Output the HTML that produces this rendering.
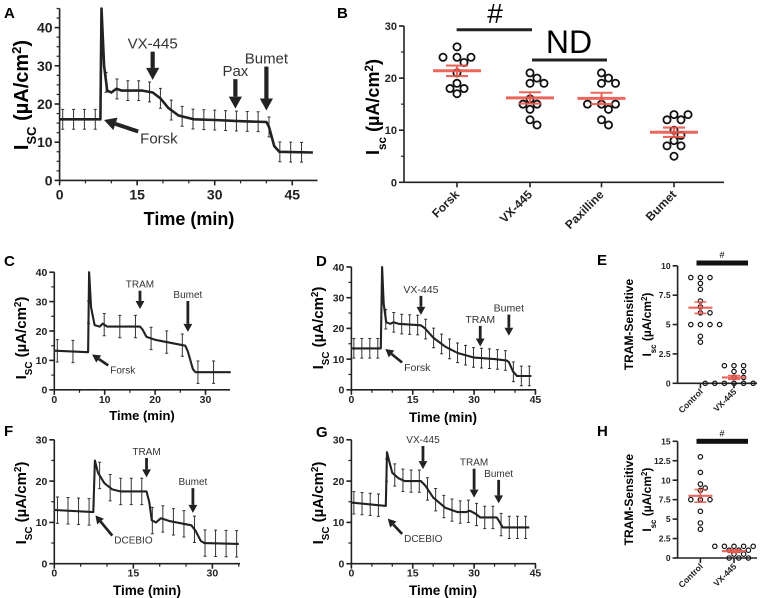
<!DOCTYPE html>
<html><head><meta charset="utf-8">
<style>
html,body{margin:0;padding:0;background:#fff;}
svg{display:block;font-family:"Liberation Sans",Arial,sans-serif;}
</style></head>
<body>
<svg id="chart" width="760" height="598" viewBox="0 0 760 598" xmlns="http://www.w3.org/2000/svg"></svg>
<script>
// ---------- DATA ----------
const A_t = [0,7.9,8.1,8.6,9.2,10,11,12,16,18,19.5,21,23,26,30,35,40,40.5,41.5,42.5,49];
const A_v = [16,16,45,30,23.5,23,24,23.5,23.5,23,21.5,19,17,16,15.8,15.5,15.3,14,9,7.5,7.3];
const A_err = 2.6;
const C_t = [0,6.7,6.9,7.3,8,9,9.6,10.5,17,17.5,18.3,20,26,26.5,27.5,28,35];
const C_v = [13.3,12.8,40,28,22,21.5,22.5,21.5,21.5,20.5,18,17,15,13,7,6,6];
const C_err = 3.8;
const D_t = [0,7.2,7.5,7.9,8.5,9.5,10.3,11.5,17,18,20,23,26,30,35,38,38.5,39.5,40.5,44];
const D_v = [13.5,13.5,40,28,22,21.5,22,21.5,21,20,17,14,12,10.5,10,9.5,9,6,4.5,4.5];
const D_err = 3.2;
const F_t = [0,7.4,7.7,8.3,9.5,11,12.5,17.5,18,18.5,19.3,20.2,22,26,26.8,27.8,28.5,35];
const F_v = [13,12.5,25,22,19.5,18,17.5,17.5,15,10.5,10,11,10.3,9.3,8,5.5,5,4.8];
const F_err = 3.2;
const G_t = [0,8.4,8.7,9.2,10,11.5,13,17,18,20,23,26,28,29,30.5,31.5,35.5,36,37,43.5];
const G_v = [14.8,14,27,25,22,20.7,20,20,19,16,13.5,12.5,12.5,12.8,12,11.2,11.2,10.5,8.8,8.8];
const G_err = 2.7;

const A_xticks = [0,15,30,45];
const A_yticks = [0,10,20,30,40];
const C_xticks = [0,10,20,30];
const D_xticks = [0,15,30,45];
const F_xticks = [0,15,30];
const G_xticks = [0,15,30,45];
const CD_yticks = [0,10,20,30,40];
const FG_yticks = [0,10,20,30];

// annotations: [t, vStart, vEnd, label]
const A_arrows = [[18,33.7,26.3,'VX-445'],[34,26.5,18.8,'Pax'],[40,29.8,18.3,'Bumet']];
const C_arrows = [[17,33.7,27.5,'TRAM'],[26.5,30.2,19.7,'Bumet']];
const D_arrows = [[17,30.6,24.4,'VX-445'],[31.5,20.8,14.1,'TRAM'],[38.5,24.5,17.6,'Bumet']];
const F_arrows = [[17.5,25.6,20.9,'TRAM'],[26.3,18.3,12.3,'Bumet']];
const G_arrows = [[17.5,28.5,22.9,'VX-445'],[30,23.0,16,'TRAM'],[36,20.3,14.6,'Bumet']];
// diagonal pointer: [tTail, vTail, tTip, vTip, label]
const A_pointer = [15.2,12.8,8.6,15.8,'Forsk'];
const C_pointer = [10.7,8.3,7.5,12,'Forsk'];
const D_pointer = [12.4,8.9,8.3,13.3,'Forsk'];
const F_pointer = [11.0,6.8,7.8,11.7,'DCEBIO'];
const G_pointer = [12.4,7.2,8.9,10.9,'DCEBIO'];

const B_categories = ['Forsk','VX-445','Paxilline','Bumet'];
const B_forsk = [26,24,24,24,23,21,19,18,18,17];
const B_vx = [21,20,19,19,16,15,15,14,12,11];
const B_pax = [21,20,19,19,15,15,15,14,12,11];
const B_bumet = [13,13,12,12,10,9,8,7,7,5];
const B_yticks = [0,10,20,30];

const E_categories = ['Control','VX-445'];
const E_control = [9,9,9,8.5,8,7,6.5,6,6,5,5,5,5,4,3.5];
const E_vx = [1.5,1.5,1.5,1,1,0.5,0.5,0,0,0,0,0,0,0,0];
const E_yticks = [0,2.5,5,7.5,10];
const H_control = [13,11,9.5,9,8.7,7.5,7.5,7.5,6,4.5,3.7];
const H_vx = [1.5,1.5,1.5,1.5,1.5,1,1,1,0.5,0.5,0,0,0];
const H_yticks = [0,2.5,5,7.5,10,12.5,15];

// ---------- DRAWING ----------
const NS = 'http://www.w3.org/2000/svg';
const svg = document.getElementById('chart');
function mk(parent, tag, attrs, text){
  const el = document.createElementNS(NS, tag);
  for (const k in attrs) el.setAttribute(k, attrs[k]);
  if (text !== undefined) el.textContent = text;
  parent.appendChild(el);
  return el;
}
const RED = '#e8574c';

function panelLetter(ch, x, y){
  const t = mk(svg,'text',{x:x,y:y,'font-size':15,'font-weight':'bold'},ch);
  
  
}

function yTitle(g, x, y, fs, sub, lines){
  const t = mk(g,'text',{transform:'translate('+x+','+y+') rotate(-90)','text-anchor':'middle','font-size':fs,'font-weight':'bold'});
  
  
  mk(t,'tspan',{},'I');
  mk(t,'tspan',{'baseline-shift':'sub','font-size':(fs*0.65).toFixed(1)},sub);
  mk(t,'tspan',{},' (\u00B5A/cm');
  mk(t,'tspan',{'baseline-shift':'super','font-size':(fs*0.65).toFixed(1)},'2');
  mk(t,'tspan',{},')');
}

function axes(g, P, xticks, yticks, minorX, minorY, fs, xLabelDy){
  const X = t => P.ox + t*P.kx, Y = v => P.oy - v*P.ky;
  const ya = mk(g,'line',{x1:P.ox,y1:P.oy,x2:P.ox,y2:Y(P.yTop),stroke:'#222','stroke-width':1.6});
  
  
  const yMax = yticks[yticks.length-1];
  for (let v=0; v<=P.yTop+1e-6; v+=minorY){
    const tk = mk(g,'line',{x1:P.ox-3,y1:Y(v),x2:P.ox,y2:Y(v),stroke:'#222','stroke-width':1.2});
    
    
  }
  yticks.forEach(v=>{
    const tk = mk(g,'line',{x1:P.ox-5,y1:Y(v),x2:P.ox,y2:Y(v),stroke:'#222','stroke-width':1.6});
    
    
    const lb = mk(g,'text',{x:P.ox-7,y:Y(v)+fs*0.36,'text-anchor':'end','font-size':fs,'font-weight':'bold',fill:'#222'},String(v));
    
    
  });
  const xa = mk(g,'line',{x1:P.ox,y1:P.oy,x2:P.xEnd,y2:P.oy,stroke:'#222','stroke-width':1.6});
  
  
  if (xticks){
    for (let t=0; X(t)<=P.xEnd+0.5; t+=minorX){
      const tk = mk(g,'line',{x1:X(t),y1:P.oy,x2:X(t),y2:P.oy+3,stroke:'#222','stroke-width':1.2});
      
      
    }
    xticks.forEach(t=>{
      const tk = mk(g,'line',{x1:X(t),y1:P.oy,x2:X(t),y2:P.oy+5,stroke:'#222','stroke-width':1.6});
      
      
      const lb = mk(g,'text',{x:X(t),y:P.oy+xLabelDy,'text-anchor':'middle','font-size':fs,'font-weight':'bold',fill:'#222'},String(t));
      
      
    });
  }
}

function interp(ts, vs, t){
  if (t<=ts[0]) return vs[0];
  for (let i=1;i<ts.length;i++){
    if (t<=ts[i]){ const f=(t-ts[i-1])/(ts[i]-ts[i-1]); return vs[i-1]+f*(vs[i]-vs[i-1]); }
  }
  return vs[vs.length-1];
}

function trace(g, P, ts, vs, err, step, lw){
  const X = t => P.ox + t*P.kx, Y = v => P.oy - v*P.ky;
  const tEnd = ts[ts.length-1];
  for (let t=0.6; t<tEnd-0.3; t+=step){
    const v = interp(ts,vs,t);
    const eb = mk(g,'path',{d:'M'+X(t)+','+Y(v-err)+'V'+Y(v+err)+'M'+(X(t)-1.5)+','+Y(v+err)+'h3M'+(X(t)-1.5)+','+Y(v-err)+'h3',stroke:'#333','stroke-width':1,fill:'none'});
    
    
  }
  let d='';
  ts.forEach((t,i)=>{ d += (i?'L':'M') + X(t).toFixed(1) + ',' + Y(vs[i]).toFixed(1); });
  const p = mk(g,'path',{d:d,stroke:'#222','stroke-width':lw,fill:'none','stroke-linejoin':'round'});
  
  
}

function arrows(g, P, list, fs, head){
  const X = t => P.ox + t*P.kx, Y = v => P.oy - v*P.ky;
  list.forEach(a=>{
    const x=X(a[0]), y1=Y(a[1]), y2=Y(a[2]);
    const ln = mk(g,'line',{x1:x,y1:y1,x2:x,y2:y2-head,stroke:'#222','stroke-width':head*0.35});
    
    
    const hd = mk(g,'path',{d:'M'+(x-head*0.55)+','+(y2-head)+'L'+(x+head*0.55)+','+(y2-head)+'L'+x+','+y2+'Z',fill:'#222'});
    
    
    const tx = mk(g,'text',{x:x,y:y1-3,'text-anchor':'middle','font-size':fs,fill:'#333'},a[3]);
    
    
  });
}

function pointer(g, P, a, fs, head){
  const X = t => P.ox + t*P.kx, Y = v => P.oy - v*P.ky;
  const x1=X(a[0]), y1=Y(a[1]), x2=X(a[2]), y2=Y(a[3]);
  const dx=x2-x1, dy=y2-y1, L=Math.hypot(dx,dy), ux=dx/L, uy=dy/L;
  const bx=x2-ux*head, by=y2-uy*head;
  const ln = mk(g,'line',{x1:x1,y1:y1,x2:bx,y2:by,stroke:'#222','stroke-width':head*0.33});
  
  
  const w=head*0.55;
  const hd = mk(g,'path',{d:'M'+(bx-uy*w)+','+(by+ux*w)+'L'+(bx+uy*w)+','+(by-ux*w)+'L'+x2+','+y2+'Z',fill:'#222'});
  
  
  const tx = mk(g,'text',{x:x1+2,y:y1+fs*0.8,'font-size':fs,fill:'#333'},a[4]);
  
  
}

function xTitle(g, x, y, fs){
  const t = mk(g,'text',{x:x,y:y,'text-anchor':'middle','font-size':fs,'font-weight':'bold'},'Time (min)');
  
  
}

function swarm(vals, ky, d, minD){
  const placed=[]; const out=[];
  const order = vals.map((v,i)=>i).sort((a,b)=>vals[b]-vals[a]);
  order.forEach(i=>{
    const y = vals[i]*ky;
    for (let k=0;k<20;k++){
      const off = (k===0?0:(k%2? 1:-1)*Math.ceil(k/2))*d;
      if (placed.every(p=>Math.hypot(p[0]-off,p[1]-y)>=minD)){ placed.push([off,y]); out[i]=off; break; }
    }
  });
  return out;
}

function scatterGroup(g, P, cx, vals, r, sw, d, minD, meanW, capW, mlw, name){
  const Y = v => P.oy - v*P.ky;
  const offs = swarm(vals, P.ky, d, minD);
  vals.forEach((v,i)=>{
    const c = mk(g,'circle',{cx:cx+offs[i],cy:Y(v),r:r,fill:'none',stroke:'#111','stroke-width':sw});
    
    
  });
  const n=vals.length, m=vals.reduce((a,b)=>a+b,0)/n;
  const sd=Math.sqrt(vals.reduce((a,b)=>a+(b-m)*(b-m),0)/(n-1)), se=sd/Math.sqrt(n);
  const ml = mk(g,'line',{x1:cx-meanW/2,y1:Y(m),x2:cx+meanW/2,y2:Y(m),stroke:RED,'stroke-width':mlw,opacity:0.9});
  
  
  const eb = mk(g,'path',{d:'M'+cx+','+Y(m-se)+'V'+Y(m+se)+'M'+(cx-capW/2)+','+Y(m+se)+'h'+capW+'M'+(cx-capW/2)+','+Y(m-se)+'h'+capW,stroke:RED,'stroke-width':mlw*0.7,fill:'none',opacity:0.9});
  
  
}

function catLabels(g, P, xs, cats, fs, dy){
  cats.forEach((c,i)=>{
    const x=xs[i]+3, y=P.oy+dy;
    const t = mk(g,'text',{transform:'translate('+x+','+y+') rotate(-45)','text-anchor':'end','font-size':fs,'font-weight':'bold',fill:'#222'},c);
    
    
    const tk = mk(g,'line',{x1:xs[i],y1:P.oy,x2:xs[i],y2:P.oy+5,stroke:'#222','stroke-width':1.6});
    
    
  });
}

function group(name){
  const g = mk(svg,'g',{});
  
  
  return g;
}

// ----- Panel A -----
{
  const P={ox:59.6, oy:180.4, kx:5.17, ky:3.82, xEnd:317.5, yTop:45};
  const g=group('panel-a');
  axes(g,P,A_xticks,A_yticks,5,2.5,14,19);
  trace(g,P,A_t,A_v,A_err,2.1,2.6);
  arrows(g,P,A_arrows,15,12);
  pointer(g,P,A_pointer,15,12);
  yTitle(g,28,95,20,'SC');
  xTitle(g,189,225,18);
}
// ----- Panel C -----
{
  const P={ox:54.3, oy:389.8, kx:5.04, ky:2.94, xEnd:230, yTop:40};
  const g=group('panel-c');
  axes(g,P,C_xticks,CD_yticks,5,5,10.5,13);
  trace(g,P,C_t,C_v,C_err,3.1,2.1);
  arrows(g,P,C_arrows,10,8);
  pointer(g,P,C_pointer,10,8);
  yTitle(g,26,338,15,'SC');
  xTitle(g,142,420,13);
}
// ----- Panel D -----
{
  const P={ox:351.4, oy:389.8, kx:4.09, ky:3.07, xEnd:536, yTop:40};
  const g=group('panel-d');
  axes(g,P,D_xticks,CD_yticks,5,5,10.5,13);
  trace(g,P,D_t,D_v,D_err,1.95,2.1);
  arrows(g,P,D_arrows,10.5,8);
  pointer(g,P,D_pointer,10.5,8);
  yTitle(g,323,328,15,'SC');
  xTitle(g,443,422,13.5);
}
// ----- Panel F -----
{
  const P={ox:54.3, oy:563.7, kx:5.27, ky:4.13, xEnd:240, yTop:30};
  const g=group('panel-f');
  axes(g,P,F_xticks,FG_yticks,5,5,10.5,13);
  trace(g,P,F_t,F_v,F_err,2.0,2.1);
  arrows(g,P,F_arrows,10,8);
  pointer(g,P,F_pointer,10,8);
  yTitle(g,26,503,15,'SC');
  xTitle(g,147,595,13.5);
}
// ----- Panel G -----
{
  const P={ox:351.4, oy:563.7, kx:4.09, ky:4.13, xEnd:536, yTop:30};
  const g=group('panel-g');
  axes(g,P,G_xticks,FG_yticks,5,5,10.5,13);
  trace(g,P,G_t,G_v,G_err,2.0,2.1);
  arrows(g,P,G_arrows,10,8);
  pointer(g,P,G_pointer,10,8);
  yTitle(g,323,503,15,'SC');
  xTitle(g,443,595,13.5);
}
// ----- Panel B -----
{
  const P={ox:404, oy:182.3, ky:5.21, xEnd:724, yTop:30};
  const g=group('panel-b');
  axes(g,P,null,B_yticks,5,5,11,12);
  const xs=[457,530,601.5,674];
  catLabels(g,P,xs,B_categories,12,13);
  [B_forsk,B_vx,B_pax,B_bumet].forEach((vals,i)=>{
    scatterGroup(g,P,xs[i],vals,3.6,1.8,7,8.2,48,22,3,'b-' + B_categories[i].toLowerCase());
  });
  const s1 = mk(g,'line',{x1:456.6,y1:29.7,x2:532,y2:29.7,stroke:'#222','stroke-width':3});
  
  
  const h1 = mk(g,'text',{x:495,y:23,'text-anchor':'middle','font-size':28},'#');
  
  
  const s2 = mk(g,'line',{x1:532,y1:60,x2:607,y2:60,stroke:'#222','stroke-width':3});
  
  
  const nd = mk(g,'text',{x:569,y:53,'text-anchor':'middle','font-size':32},'ND');
  
  
  yTitle(g,379,107,18,'sc');
}
// ----- Panels E and H -----
function smallPanel(name, P, yticks, ctrl, vx, barY){
  const g=group(name);
  axes(g,P,null,yticks,100,100,8.5,10);
  const xs=[700.4,734];
  catLabels(g,P,xs,E_categories,8.5,9);
  scatterGroup(g,P,xs[0],ctrl,2.2,1.2,4.8,5,24,12,2.2,name+'-control');
  scatterGroup(g,P,xs[1],vx,2.2,1.2,4.8,5,24,12,2.2,name+'-vx445');
  const b = mk(g,'rect',{x:696.5,y:barY-2.5,width:51.5,height:5,fill:'#111'});
  
  
  const h = mk(g,'text',{x:722,y:barY-5,'text-anchor':'middle','font-size':9},'#');
  
  
  const t1 = mk(g,'text',{transform:'translate('+633+','+(P.oy-P.ky*yticks[yticks.length-1]*0.5)+') rotate(-90)','text-anchor':'middle','font-size':12,'font-weight':'bold'},'TRAM-Sensitive');
  
  
  yTitle(g,651,P.oy-P.ky*yticks[yticks.length-1]*0.5,12,'sc');
}
smallPanel('panel-e',{ox:677.6, oy:383.3, ky:11.75, xEnd:757, yTop:10},E_yticks,E_control,E_vx,263);
smallPanel('panel-h',{ox:677.6, oy:558, ky:7.78, xEnd:757, yTop:15},H_yticks,H_control,H_vx,441.3);

panelLetter('A',4,18);
panelLetter('B',337,18);
panelLetter('C',4,266);
panelLetter('D',316,266);
panelLetter('E',597,265);
panelLetter('F',4,436);
panelLetter('G',316,437);
panelLetter('H',597,436);
</script>
</body></html>
